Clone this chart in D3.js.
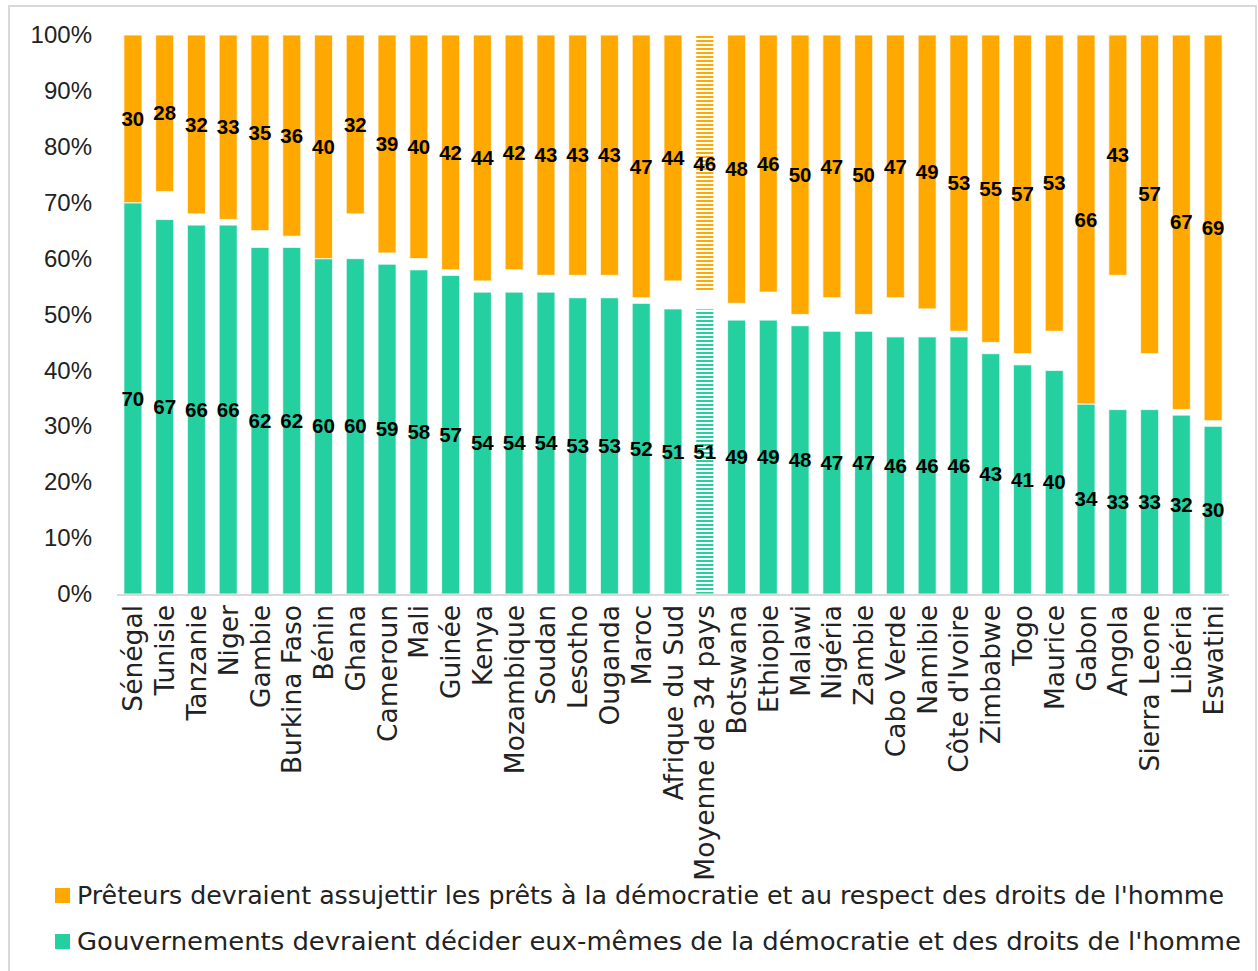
<!DOCTYPE html>
<html>
<head>
<meta charset="utf-8">
<script src="https://cdn.jsdelivr.net/npm/d3@7"></script>
<style>
  html, body { margin: 0; padding: 0; background: #fff; }
  svg { display: block; }
</style>
</head>
<body>
<svg id="chart" width="1258" height="971"></svg>
<script>
// Countries (and the 34-country average) in display order
const categories = [
  "Sénégal", "Tunisie", "Tanzanie", "Niger", "Gambie", "Burkina Faso", "Bénin",
  "Ghana", "Cameroun", "Mali", "Guinée", "Kenya", "Mozambique", "Soudan",
  "Lesotho", "Ouganda", "Maroc", "Afrique du Sud", "Moyenne de 34 pays",
  "Botswana", "Ethiopie", "Malawi", "Nigéria", "Zambie", "Cabo Verde",
  "Namibie", "Côte d'Ivoire", "Zimbabwe", "Togo", "Maurice", "Gabon",
  "Angola", "Sierra Leone", "Libéria", "Eswatini"
];

// % saying governments should decide on democracy and human rights themselves
const gouvernements = [
  70, 67, 66, 66, 62, 62, 60, 60, 59, 58, 57, 54, 54, 54, 53, 53, 52, 51, 51,
  49, 49, 48, 47, 47, 46, 46, 46, 43, 41, 40, 34, 33, 33, 32, 30
];

// % saying lenders should tie loans to democracy and human rights
const preteurs = [
  30, 28, 32, 33, 35, 36, 40, 32, 39, 40, 42, 44, 42, 43, 43, 43, 47, 44, 46,
  48, 46, 50, 47, 50, 47, 49, 53, 55, 57, 53, 66, 43, 57, 67, 69
];

const yTicks = [0, 10, 20, 30, 40, 50, 60, 70, 80, 90, 100];

const legendLabels = [
  "Prêteurs devraient assujettir les prêts à la démocratie et au respect des droits de l'homme",
  "Gouvernements devraient décider eux-mêmes de la démocratie et des droits de l'homme"
];

const averageLabel = "Moyenne de 34 pays";

const ORANGE = "#ffa900";
const GREEN = "#25d0a0";
const FONT = "'DejaVu Sans', 'Liberation Sans', sans-serif";
const LABEL_FONT = "'Liberation Sans', Arial, sans-serif";

const svg = d3.select("#chart");

// Outer frame
svg.append("rect")
  .attr("x", 9).attr("y", 6)
  .attr("width", 1247).attr("height", 975)
  .attr("fill", "none")
  .attr("stroke", "#d9d9d9")
  .attr("stroke-width", 2);

// Striped fills for the average bar
const defs = svg.append("defs");
[["stripe-orange", ORANGE], ["stripe-green", GREEN]].forEach(([id, c]) => {
  const p = defs.append("pattern")
    .attr("id", id)
    .attr("patternUnits", "userSpaceOnUse")
    .attr("width", 8).attr("height", 4);
  p.append("rect").attr("width", 8).attr("height", 4).attr("fill", "#fff");
  p.append("rect").attr("width", 8).attr("height", 2).attr("fill", c);
});

const plot = { left: 117, right: 1229, top: 35, bottom: 594 };

const x = d3.scaleBand()
  .domain(categories)
  .range([plot.left, plot.right])
  .paddingInner(0.43)
  .paddingOuter(0.215);

const y = d3.scaleLinear()
  .domain([0, 100])
  .range([plot.bottom, plot.top]);

const rows = categories.map((c, i) => ({ c, g: gouvernements[i], p: preteurs[i] }));

// Y axis labels (no line, no ticks)
const yAxis = svg.append("g")
  .attr("transform", `translate(${plot.left - 25},0)`)
  .call(d3.axisLeft(y).tickValues(yTicks).tickFormat(d => d + "%").tickSize(0).tickPadding(0));
yAxis.select(".domain").remove();
yAxis.selectAll("text")
  .attr("font-family", LABEL_FONT)
  .attr("font-size", 24)
  .attr("fill", "#222");

// Green bars: from 0 up to the value
svg.append("g").selectAll("rect")
  .data(rows).join("rect")
  .attr("x", d => x(d.c))
  .attr("width", x.bandwidth())
  .attr("y", d => y(d.g))
  .attr("height", d => y(0) - y(d.g))
  .attr("fill", d => d.c === averageLabel ? "url(#stripe-green)" : GREEN)
  .attr("stroke", "#fff").attr("stroke-opacity", 0.7).attr("stroke-width", 1.2);

// Orange bars: hanging down from 100%
svg.append("g").selectAll("rect")
  .data(rows).join("rect")
  .attr("x", d => x(d.c))
  .attr("width", x.bandwidth())
  .attr("y", y(100))
  .attr("height", d => y(100 - d.p) - y(100))
  .attr("fill", d => d.c === averageLabel ? "url(#stripe-orange)" : ORANGE)
  .attr("stroke", "#fff").attr("stroke-opacity", 0.7).attr("stroke-width", 1.2);

// Baseline
svg.append("line")
  .attr("x1", plot.left).attr("x2", plot.right)
  .attr("y1", y(0) + 1).attr("y2", y(0) + 1)
  .attr("stroke", "#d9d9d9").attr("stroke-width", 2);

// Value labels centred in each segment
const labels = svg.append("g")
  .attr("font-family", LABEL_FONT)
  .attr("font-weight", "bold")
  .attr("font-size", 20.5)
  .attr("fill", "#000")
  .attr("text-anchor", "middle");

labels.selectAll("text.g")
  .data(rows).join("text")
  .attr("class", "g")
  .attr("x", d => x(d.c) + x.bandwidth() / 2)
  .attr("y", d => y(d.g / 2))
  .attr("dy", "0.35em")
  .text(d => d.g);

labels.selectAll("text.p")
  .data(rows).join("text")
  .attr("class", "p")
  .attr("x", d => x(d.c) + x.bandwidth() / 2)
  .attr("y", d => y(100 - d.p / 2))
  .attr("dy", "0.35em")
  .text(d => d.p);

// Category labels, rotated
svg.append("g")
  .selectAll("text")
  .data(categories).join("text")
  .attr("transform", d => `translate(${x(d) + x.bandwidth() / 2},${plot.bottom + 11}) rotate(-90)`)
  .attr("text-anchor", "end")
  .attr("dy", "0.36em")
  .attr("font-family", FONT)
  .attr("font-size", 26.5)
  .attr("fill", "#222")
  .text(d => d);

// Legend
const legend = svg.append("g");
const legendItems = [
  { label: legendLabels[0], color: ORANGE, y: 888, width: 1147 },
  { label: legendLabels[1], color: GREEN, y: 934, width: 1164 }
];
legendItems.forEach(item => {
  legend.append("rect")
    .attr("x", 55).attr("y", item.y)
    .attr("width", 15).attr("height", 15)
    .attr("fill", item.color);
  legend.append("text")
    .attr("x", 77).attr("y", item.y + 7.5)
    .attr("dy", "0.36em")
    .attr("font-family", FONT)
    .attr("font-size", 24)
    .attr("fill", "#222")
    .attr("textLength", item.width)
    .attr("lengthAdjust", "spacingAndGlyphs")
    .text(item.label);
});
</script>
</body>
</html>
